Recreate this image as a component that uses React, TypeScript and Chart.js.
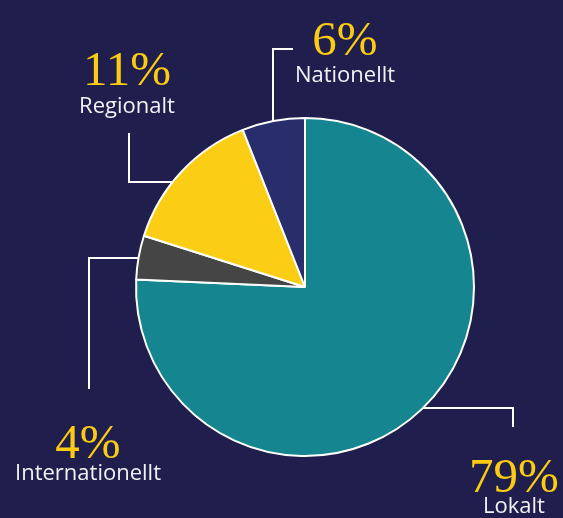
import React, { useEffect, useRef } from "react";
import { Chart, registerables } from "chart.js";

Chart.register(...registerables);

// Data
const categories = ["Lokalt", "Internationellt", "Regionalt", "Nationellt"];
const sliceShares = [75.7, 4.2, 14.1, 6.0]; // slice sizes as drawn
const percentLabels = ["79%", "4%", "11%", "6%"];
const sliceColors = ["#15868f", "#454545", "#fbcd14", "#282d6b"];

// Annotation layout (leader lines and label anchors)
const leaderLines: number[][][] = [
  [[423, 408], [513, 408], [513, 427]],
  [[89, 389], [89, 258], [139, 258]],
  [[129, 133], [129, 182], [172, 182]],
  [[273, 121], [273, 49], [293, 49]],
];
const labelAnchors = [
  { x: 514, pctY: 492, nameY: 513 },
  { x: 88, pctY: 458, nameY: 480 },
  { x: 127, pctY: 85, nameY: 113 },
  { x: 345, pctY: 55, nameY: 82 },
];

const BG = "#1f1e4c";

const annotationPlugin = {
  id: "annotations",
  afterDraw(chart: any) {
    const ctx = chart.ctx;
    ctx.save();
    ctx.strokeStyle = "#ffffff";
    ctx.lineWidth = 2;
    ctx.lineCap = "butt";
    ctx.lineJoin = "miter";
    leaderLines.forEach((pts) => {
      ctx.beginPath();
      pts.forEach((p, i) => (i === 0 ? ctx.moveTo(p[0], p[1]) : ctx.lineTo(p[0], p[1])));
      ctx.stroke();
    });
    ctx.textAlign = "center";
    ctx.textBaseline = "alphabetic";
    categories.forEach((name, i) => {
      const a = labelAnchors[i];
      ctx.fillStyle = "#fccc13";
      ctx.font = "49px 'Liberation Serif', serif";
      ctx.fillText(percentLabels[i], a.x, a.pctY);
      ctx.fillStyle = "#f2f2f6";
      ctx.font = "22px 'Open Sans', sans-serif";
      ctx.fillText(name, a.x, a.nameY);
    });
    ctx.restore();
  },
};

export default function App() {
  const ref = useRef<HTMLCanvasElement | null>(null);
  useEffect(() => {
    document.body.style.margin = "0";
    document.body.style.background = BG;
    if (!ref.current) return;
    const chart = new Chart(ref.current, {
      type: "pie",
      data: {
        labels: categories,
        datasets: [
          {
            data: sliceShares,
            backgroundColor: sliceColors,
            borderColor: "#ffffff",
            borderWidth: 2,
          },
        ],
      },
      options: {
        animation: false,
        responsive: false,
        radius: 169,
        layout: { padding: { left: 135, right: 88, top: 117, bottom: 61 } },
        plugins: {
          legend: { display: false },
          tooltip: { enabled: false },
        },
      },
      plugins: [annotationPlugin],
    });
    return () => chart.destroy();
  }, []);
  return (
    <div style={{ width: 563, height: 518, background: BG, position: "relative" }}>
      <canvas ref={ref} width={563} height={518} style={{ display: "block" }} />
    </div>
  );
}
